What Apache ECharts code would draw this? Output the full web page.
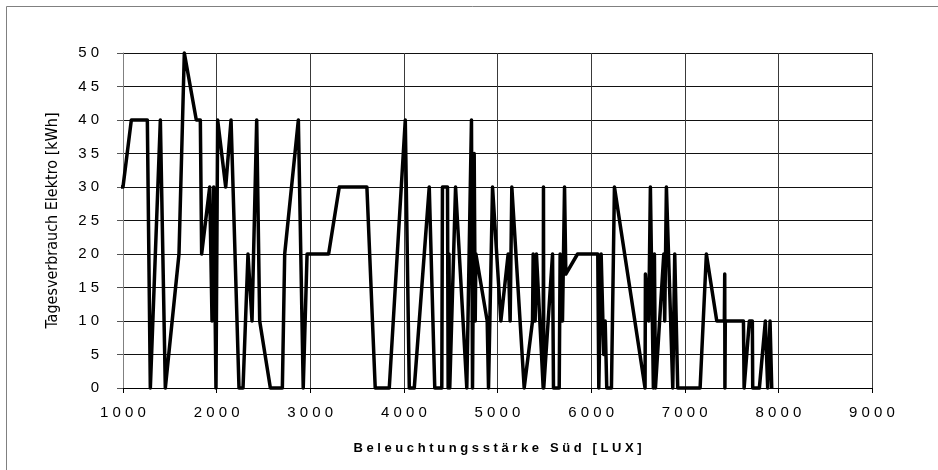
<!DOCTYPE html>
<html>
<head>
<meta charset="utf-8">
<script src="https://cdn.jsdelivr.net/npm/echarts@6/dist/echarts.min.js"></script>
<style>
  html, body { margin: 0; padding: 0; background: #fff; }
  #chart { width: 938px; height: 470px; }
</style>
</head>
<body>
<div id="chart"></div>
<script>
// Beleuchtungsstaerke Sued [LUX] vs Tagesverbrauch Elektro [kWh]
var luxValues = [
    925, 1000, 1089, 1260, 1292, 1399, 1452, 1598, 1655, 1783,
    1826, 1840, 1926, 1951, 1969, 1993, 2011, 2097, 2154, 2239,
    2282, 2335, 2378, 2428, 2460, 2574, 2702, 2727, 2873, 2925,
    2966, 3196, 3310, 3605, 3694, 3844, 4015, 4058, 4111, 4271,
    4330, 4405, 4412, 4466, 4473, 4482, 4490, 4552, 4672, 4722,
    4733, 4751, 4762, 4769, 4890, 4904, 4947, 5036, 5114, 5135,
    5153, 5285, 5374, 5381, 5402, 5416, 5488, 5491, 5494, 5588,
    5598, 5659, 5669, 5694, 5716, 5730, 5855, 6071, 6082, 6107,
    6135, 6150, 6167, 6217, 6249, 6576, 6580, 6615, 6633, 6665,
    6676, 6687, 6776, 6786, 6804, 6872, 6893, 6925, 7164, 7231,
    7342, 7423, 7427, 7429, 7433, 7627, 7634, 7690, 7722, 7726,
    7797, 7861, 7886, 7911, 7929
];
var kwhValues = [
    30, 30, 40, 40, 0, 40, 0, 20, 50, 40,
    40, 20, 30, 10, 30, 0, 40, 30, 40, 0,
    0, 20, 10, 40, 10, 0, 0, 20, 40, 0,
    20, 20, 30, 30, 0, 0, 40, 0, 0, 30,
    0, 0, 30, 30, 0, 20, 0, 30, 0, 40,
    0, 35, 10, 20, 10, 0, 30, 10, 20, 10,
    30, 0, 10, 20, 10, 20, 0, 30, 0, 20,
    0, 0, 20, 10, 30, 17, 20, 20, 0, 20,
    5, 10, 0, 0, 30, 0, 17, 10, 30, 0,
    20, 0, 20, 10, 30, 0, 20, 0, 0, 20,
    10, 10, 17, 0, 10, 10, 0, 10, 10, 0,
    0, 10, 0, 10, 0
];

var xTitle = 'Beleuchtungsstärke Süd [LUX]';
var yTitle = 'Tagesverbrauch Elektro [kWh]';

// Excel style wide letter spacing
function spaced(s) {
    return String(s).split('').join(' ');
}

var points = luxValues.map(function (x, i) { return [x, kwhValues[i]]; });

var myChart = echarts.init(document.getElementById('chart'));

var option = {
    backgroundColor: '#fff',
    animation: false,
    grid: { left: 123, right: 66, top: 53, bottom: 82, containLabel: false },
    graphic: [{
        type: 'rect',
        shape: { x: 6.5, y: 6.5, width: 1000, height: 1000 },
        style: { fill: 'none', stroke: '#808080', lineWidth: 1 },
        silent: true
    }],
    xAxis: {
        type: 'value',
        min: 1000,
        max: 9000,
        interval: 1000,
        name: spaced(xTitle),
        nameLocation: 'middle',
        nameGap: 54,
        nameTextStyle: { color: '#000', fontFamily: 'Liberation Sans', fontSize: 13, fontWeight: 'bold' },
        axisLine: { lineStyle: { color: '#000', width: 1 } },
        axisTick: { show: true, length: 5, lineStyle: { color: '#000' } },
        axisLabel: {
            margin: 17,
            color: '#000',
            fontFamily: 'Liberation Sans',
            fontSize: 15,
            formatter: function (v) { return spaced(v); }
        },
        splitLine: { show: true, lineStyle: { color: '#3a3a3a', width: 1 } }
    },
    yAxis: {
        type: 'value',
        min: 0,
        max: 50,
        interval: 5,
        name: yTitle,
        nameLocation: 'middle',
        nameGap: 62,
        nameRotate: 90,
        nameTextStyle: {
            color: '#000',
            fontFamily: "'Liberation Sans Narrow', 'DejaVu Sans Condensed', 'Liberation Sans', sans-serif",
            fontSize: 16
        },
        axisLine: { show: true, lineStyle: { color: '#808080', width: 1 } },
        axisTick: { show: true, length: 6, lineStyle: { color: '#555' } },
        axisLabel: {
            margin: 24,
            color: '#000',
            fontFamily: 'Liberation Sans',
            fontSize: 15,
            formatter: function (v) { return spaced(v); }
        },
        splitLine: { show: true, lineStyle: { color: '#111', width: 1 } }
    },
    series: [{
        type: 'line',
        data: points,
        showSymbol: false,
        clip: false,
        lineStyle: { color: '#000', width: 3.5, join: 'round', cap: 'butt' }
    }]
};

myChart.setOption(option);
window.addEventListener('resize', function () { myChart.resize(); });
</script>
</body>
</html>
